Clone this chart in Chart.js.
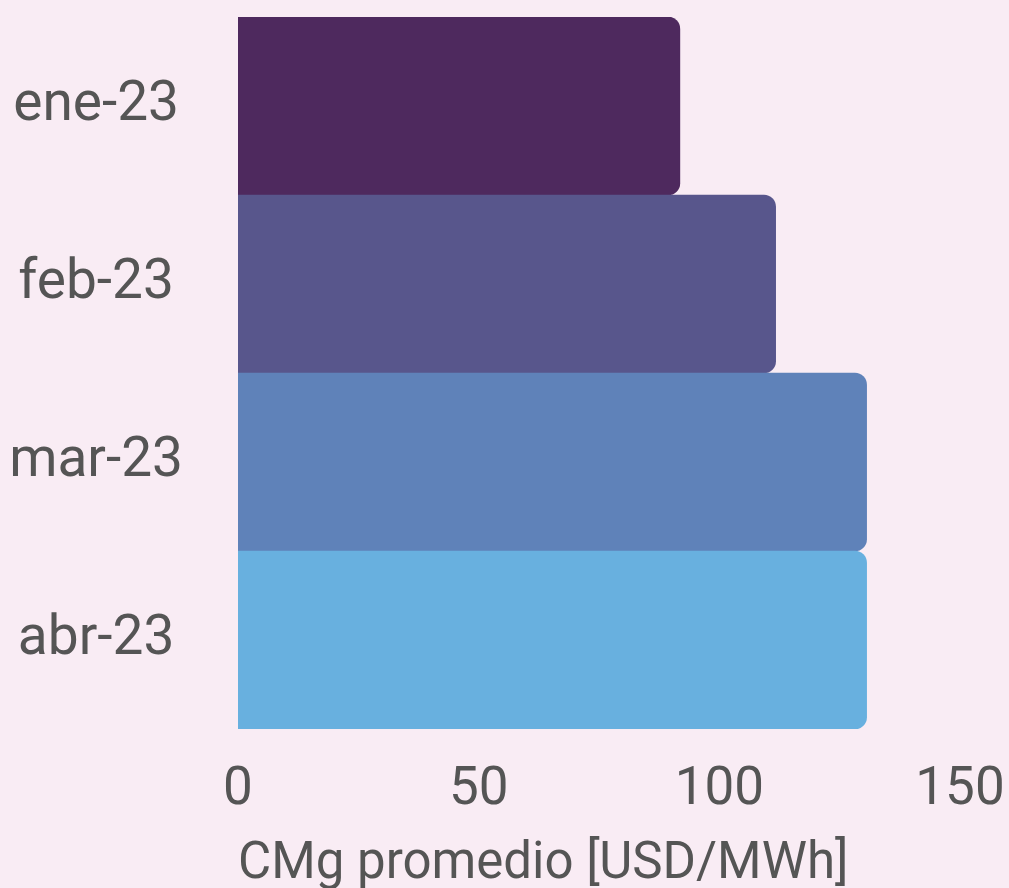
<!DOCTYPE html>
<html>
<head>
<meta charset="utf-8">
<script src="https://cdn.jsdelivr.net/npm/chart.js@4.4.0/dist/chart.umd.min.js"></script>
<style>
  html, body { margin: 0; padding: 0; background: #f9ecf4; }
  #wrap { width: 1009px; height: 888px; }
</style>
</head>
<body>
<div id="wrap"><canvas id="chart"></canvas></div>
<script>
const months = ["ene-23", "feb-23", "mar-23", "abr-23"];
const cmgValues = [91.8, 111.7, 130.6, 130.6];
const barColors = ["#4e295e", "#58568c", "#5f82b9", "#68b0df"];
const xTicks = [0, 50, 100, 150];
const xTitle = "CMg promedio [USD/MWh]";

const textColor = "#555555";

const ctx = document.getElementById("chart").getContext("2d");
new Chart(ctx, {
  type: "bar",
  data: {
    labels: months,
    datasets: [{
      data: cmgValues,
      backgroundColor: barColors,
      borderRadius: 12,
      borderSkipped: "start",
      barPercentage: 1,
      categoryPercentage: 1,
    }],
  },
  options: {
    indexAxis: "y",
    responsive: true,
    maintainAspectRatio: false,
    animation: false,
    layout: { padding: { top: 17, right: 49, left: 0, bottom: 0 } },
    plugins: {
      legend: { display: false },
      tooltip: { enabled: false },
    },
    scales: {
      x: {
        min: 0,
        max: 150,
        afterBuildTicks: (axis) => {
          axis.ticks = xTicks.map((v) => ({ value: v }));
        },
        afterFit: (axis) => {
          axis.height = 159;
          // no extra room for the overhanging end labels
          axis.paddingLeft = 0;
          axis.paddingRight = 0;
        },
        grid: { display: false, drawTicks: false },
        border: { display: false },
        ticks: {
          color: textColor,
          padding: 30,
          maxRotation: 0,
          font: { family: "Roboto", size: 53 },
        },
        title: {
          display: true,
          text: xTitle,
          align: "start",
          color: textColor,
          padding: { top: 0, bottom: 0 },
          font: { family: "Roboto", size: 51, lineHeight: 0.9 },
        },
      },
      y: {
        afterFit: (axis) => {
          axis.width = 238;
          axis.paddingTop = 0;
          axis.paddingBottom = 0;
        },
        grid: { display: false, drawTicks: false },
        border: { display: false },
        ticks: {
          color: textColor,
          crossAlign: "center",
          padding: 55,
          font: { family: "Roboto", size: 55 },
        },
      },
    },
  },
});
</script>
</body>
</html>
